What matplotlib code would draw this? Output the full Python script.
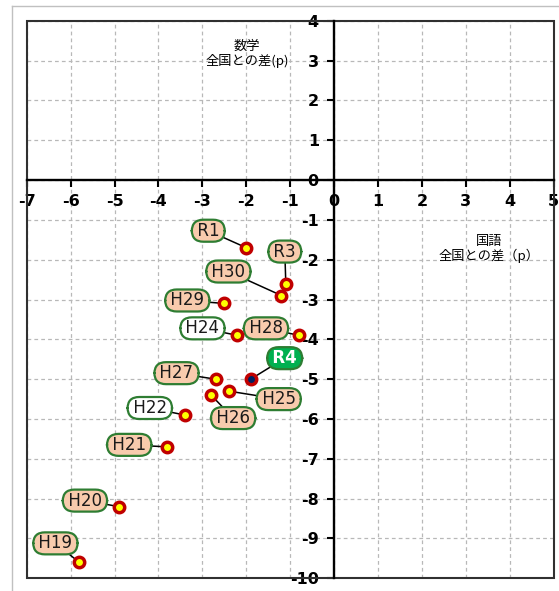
import matplotlib
matplotlib.use("Agg")
import matplotlib.pyplot as plt
from matplotlib.patches import Rectangle
from matplotlib.lines import Line2D

plt.rcParams['font.family'] = ['DejaVu Sans', 'Noto Sans CJK JP']
plt.rcParams['axes.unicode_minus'] = False

# data: difference from the national average (points)
years = ['H19', 'H20', 'H21', 'H22', 'H24', 'H25', 'H26',
         'H27', 'H28', 'H29', 'H30', 'R1', 'R3', 'R4']
kokugo = [-5.8, -4.9, -3.8, -3.4, -2.2, -2.4, -2.8,
          -2.7, -0.8, -2.5, -1.2, -2.0, -1.1, -1.9]
sugaku = [-9.6, -8.2, -6.7, -5.9, -3.9, -5.3, -5.4,
          -5.0, -3.9, -3.1, -2.9, -1.7, -2.6, -5.0]
x_ticks = list(range(-7, 6))
y_ticks = list(range(-10, 5))

# label placement (pixel offsets from the point)
label_offset = {
    'H19': (-24, 19), 'H20': (-34, 6), 'H21': (-38, 2), 'H22': (-35, 7),
    'H24': (-35, 7), 'H25': (50, -8), 'H26': (22, -23), 'H27': (-39, 6),
    'H28': (-33, 7), 'H29': (-37, 3), 'H30': (-53, 24), 'R1': (-38, 17),
    'R3': (-1, 32), 'R4': (34, 21),
}
white_labels = ['H22', 'H24']
latest = 'R4'

PEACH = '#F8CBAD'
GREEN_EDGE = '#2E7D32'
GREEN = '#00B050'
RED = '#C00000'

fig = plt.figure(figsize=(5.59, 5.91), dpi=100)
ax = fig.add_axes([26.7 / 559, 1 - 578.3 / 591, (553.7 - 26.7) / 559, (578.3 - 20.7) / 591])

ax.set_xlim(-7, 5)
ax.set_ylim(-10, 4)
ax.set_xticks(x_ticks)
ax.set_yticks(y_ticks)

# axes through the origin
for side in ['top', 'right']:
    ax.spines[side].set_visible(False)
ax.spines['left'].set_position(('data', 0))
ax.spines['bottom'].set_position(('data', 0))
for side in ['left', 'bottom']:
    ax.spines[side].set_linewidth(1.7)
    ax.spines[side].set_color('black')
    ax.spines[side].set_zorder(3)

# plot area frame
ax.add_patch(Rectangle((0, 0), 1, 1, transform=ax.transAxes, fill=False,
                       edgecolor='#303030', lw=1.5, zorder=3, clip_on=False))

ax.tick_params(axis='both', direction='out', length=5, width=1.5, color='black')
ax.tick_params(axis='x', pad=5)
ax.tick_params(axis='y', pad=6)
for lab in ax.get_xticklabels() + ax.get_yticklabels():
    lab.set_fontfamily('DejaVu Sans')
    lab.set_fontweight('bold')
    lab.set_fontsize(11.5)

ax.grid(True, color='#b8b8b8', linestyle=(0, (3, 2.5)), linewidth=0.9)
ax.set_axisbelow(True)

# points
for yr, x, y in zip(years, kokugo, sugaku):
    face = '#002060' if yr == latest else '#FFFF00'
    ax.plot(x, y, marker='o', ms=7.5, mfc=face, mec=RED, mew=2.5,
            linestyle='none', zorder=5)

# labels with leader lines
for yr, x, y in zip(years, kokugo, sugaku):
    if yr == latest:
        fc, tc, fw = GREEN, 'white', 'bold'
    elif yr in white_labels:
        fc, tc, fw = 'white', '#1a1a1a', 'normal'
    else:
        fc, tc, fw = PEACH, '#1a1a1a', 'normal'
    ax.annotate('\u2009' + yr + '\u2009', xy=(x, y), xytext=label_offset[yr],
                textcoords='offset pixels',
                ha='center', va='center', fontsize=12, color=tc, fontweight=fw,
                bbox=dict(boxstyle='round,pad=0.12,rounding_size=0.7', fc=fc,
                          ec=GREEN_EDGE, lw=1.6),
                arrowprops=dict(arrowstyle='-', color='black', lw=1.1,
                                shrinkA=0, shrinkB=4),
                zorder=4)

# axis titles
ax.text(-1.98, 3.17, '数学\n全国との差(p)', ha='center', va='center',
        fontsize=9.5, family=['Noto Sans CJK JP', 'DejaVu Sans'], linespacing=1.1)
ax.text(3.53, -1.73, '国語\n全国との差（p）', ha='center', va='center',
        fontsize=9.5, family=['Noto Sans CJK JP', 'DejaVu Sans'], linespacing=1.05)

# chart border (top and left visible)
bx, by = 11.7 / 559, 1 - 5.7 / 591
fig.add_artist(Line2D([bx, 1], [by, by], color='#c0c0c0', lw=1, transform=fig.transFigure))
fig.add_artist(Line2D([bx, bx], [0, by], color='#c0c0c0', lw=1, transform=fig.transFigure))

fig.savefig('out.png', dpi=100)
